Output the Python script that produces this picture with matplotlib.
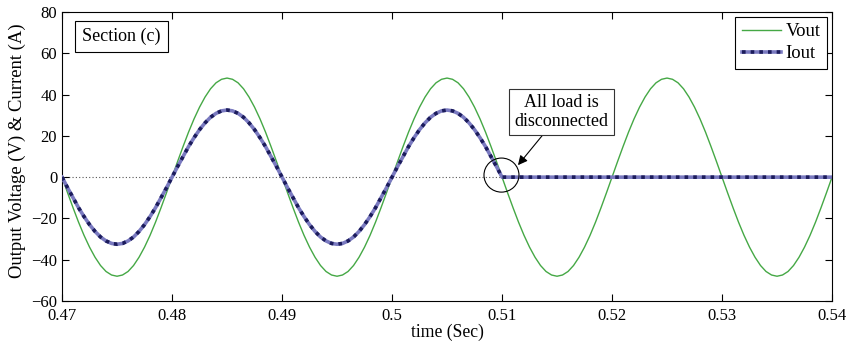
import numpy as np
import matplotlib
matplotlib.use("Agg")
import matplotlib.pyplot as plt
from matplotlib.patches import Ellipse

plt.rcParams["font.family"] = ["Liberation Serif", "DejaVu Serif"]

# ---------------------------------------------------------------------------
# Data (0.5 ms samples)
# ---------------------------------------------------------------------------
t_start, t_stop, n_samples = 0.47, 0.54, 141

vout_cycle = [0, -7.5, -14.8, -21.8, -28.2, -33.9, -38.8, -42.8, -45.7, -47.4,
              -48.0, -47.4, -45.7, -42.8, -38.8, -33.9, -28.2, -21.8, -14.8, -7.5,
              0, 7.5, 14.8, 21.8, 28.2, 33.9, 38.8, 42.8, 45.7, 47.4,
              48.0, 47.4, 45.7, 42.8, 38.8, 33.9, 28.2, 21.8, 14.8, 7.5]
vout_tail = [0, -7.5, -14.8, -21.8, -28.2, -33.9, -38.8, -42.8, -45.7, -47.4,
             -48.0, -47.4, -45.7, -42.8, -38.8, -33.9, -28.2, -21.8, -14.8, -7.5, 0]

iout_cycle = [0, -5.1, -10.0, -14.8, -19.1, -23.0, -26.3, -29.0, -30.9, -32.1,
              -32.5, -32.1, -30.9, -29.0, -26.3, -23.0, -19.1, -14.8, -10.0, -5.1,
              0, 5.1, 10.0, 14.8, 19.1, 23.0, 26.3, 29.0, 30.9, 32.1,
              32.5, 32.1, 30.9, 29.0, 26.3, 23.0, 19.1, 14.8, 10.0, 5.1]
iout_disconnected = [0] * 61

vout = vout_cycle * 3 + vout_tail
iout = iout_cycle * 2 + iout_disconnected

x_ticks = [0.47, 0.48, 0.49, 0.50, 0.51, 0.52, 0.53, 0.54]
x_tick_labels = ["0.47", "0.48", "0.49", "0.5", "0.51", "0.52", "0.53", "0.54"]
y_ticks = [-60, -40, -20, 0, 20, 40, 60, 80]

t = np.linspace(t_start, t_stop, n_samples)

# ---------------------------------------------------------------------------
# Figure
# ---------------------------------------------------------------------------
fig = plt.figure(figsize=(8.51, 3.49), dpi=100)
ax = fig.add_axes([0.0729, 0.1375, 0.9048, 0.8281])

ax.axhline(0, color="#555555", linestyle=(0, (1, 2)), linewidth=0.8, zorder=1)

v_line, = ax.plot(t, vout, color="#45a845", linewidth=1.0, zorder=2)
i_base, = ax.plot(t, iout, color="#7a7ac0", linewidth=2.6, zorder=3)
i_dots, = ax.plot(t, iout, color="#1c1c5c", linewidth=2.6,
                  linestyle=(0, (1, 1.4)), zorder=4)

ax.set_xlim(t_start, t_stop)
ax.set_ylim(-60, 80)
ax.set_xticks(x_ticks)
ax.set_xticklabels(x_tick_labels)
ax.set_yticks(y_ticks)
ax.tick_params(direction="in", top=True, right=True, length=5,
               labelsize=12, width=0.8)
ax.tick_params(axis="x", pad=5)
for sp in ax.spines.values():
    sp.set_linewidth(0.8)

ax.set_xlabel("time (Sec)", fontsize=12.7, labelpad=0)
ax.set_ylabel("Output Voltage (V) & Current (A)", fontsize=13.4)
ax.yaxis.set_label_coords(-0.047, 0.52)

leg = ax.legend([v_line, (i_base, i_dots)], ["Vout", "Iout"],
                loc="upper right", fontsize=13.5, fancybox=False,
                edgecolor="black", framealpha=1, handlelength=2.1,
                borderaxespad=0.25, handletextpad=0.25, borderpad=0.35,
                labelspacing=0.25)
leg.get_frame().set_linewidth(0.8)

ax.text(0.077, 0.915, "Section (c)", transform=ax.transAxes, fontsize=13,
        ha="center", va="center",
        bbox=dict(boxstyle="square,pad=0.4", facecolor="white",
                  edgecolor="black", linewidth=0.8))

ax.add_patch(Ellipse((0.50995, 1.0), 0.00318, 16.5, fill=False,
                     edgecolor="black", linewidth=0.8, zorder=5))

ax.annotate("All load is\ndisconnected", xy=(0.51145, 5.8),
            xytext=(0.5154, 31.5), fontsize=13, ha="center", va="center",
            linespacing=1.1,
            bbox=dict(boxstyle="square,pad=0.3", facecolor="white",
                      edgecolor="#333333", linewidth=0.8),
            arrowprops=dict(arrowstyle="-|>", color="black", linewidth=0.8,
                            mutation_scale=14, shrinkA=0, shrinkB=0))

fig.savefig("out.png", dpi=100)
